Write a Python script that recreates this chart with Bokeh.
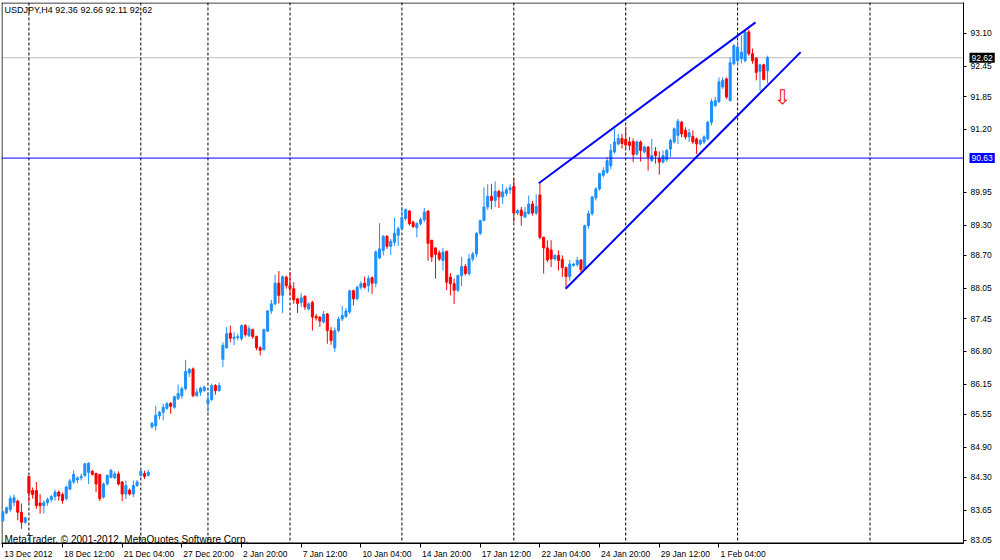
from bokeh.plotting import figure
from bokeh.models import (FixedTicker, Span, Label, LinearAxis, PrintfTickFormatter,
                          ColumnDataSource, Range1d)
from bokeh.core.properties import value
from bokeh.embed import file_html
from bokeh.resources import INLINE

symbol = "USDJPY,H4"

opens = [83.44, 83.60, 83.66, 83.80, 83.83, 83.61, 83.41, 84.32, 84.04, 84.04,
         83.79, 83.74, 83.80, 83.86, 83.92, 84.01, 83.96, 83.88, 84.07, 84.21,
         84.25, 84.29, 84.34, 84.40, 84.42, 84.38, 84.36, 83.91, 84.17, 84.30,
         84.29, 84.37, 84.21, 83.97, 84.05, 83.97, 84.14, 84.34, 84.38, 84.34,
         85.30, 85.32, 85.52, 85.59, 85.67, 85.77, 85.69, 85.86, 85.92, 86.06,
         86.37, 86.45, 85.92, 85.99, 86.02, 85.77, 85.84, 86.12, 86.02, 86.64,
         86.87, 87.16, 87.05, 87.07, 87.05, 87.31, 87.11, 87.23, 87.09, 86.87,
         86.83, 87.20, 87.60, 87.74, 88.15, 87.91, 88.27, 88.10, 88.04, 87.84,
         87.77, 87.89, 87.64, 87.77, 87.49, 87.48, 87.38, 87.54, 87.21, 86.87,
         87.21, 87.44, 87.49, 87.58, 88.00, 87.84, 88.07, 88.15, 88.10, 88.26,
         88.15, 88.65, 88.80, 89.08, 88.88, 88.96, 89.10, 89.23, 89.43, 89.58,
         89.36, 89.25, 89.33, 89.41, 89.58, 89.00, 88.85, 88.75, 88.60, 88.78,
         88.27, 88.14, 88.01, 88.30, 88.48, 88.34, 88.63, 88.73, 89.14, 89.39,
         89.66, 89.87, 89.79, 89.97, 89.86, 89.93, 90.00, 90.07, 89.54, 89.60,
         89.46, 89.53, 89.72, 89.54, 89.90, 89.06, 88.85, 88.81, 88.63, 88.70,
         88.62, 88.46, 88.28, 88.50, 88.52, 88.61, 88.42, 89.29, 89.53, 89.84,
         90.02, 90.29, 90.35, 90.48, 90.75, 90.91, 91.02, 91.00, 90.95, 90.96,
         90.71, 90.95, 90.75, 90.85, 90.58, 90.76, 90.62, 90.55, 90.60, 90.81,
         90.95, 91.08, 91.34, 91.18, 91.05, 91.06, 91.01, 90.91, 90.95, 91.01,
         91.34, 91.67, 91.75, 92.04, 92.20, 91.77, 92.50, 92.56, 92.60, 92.56,
         93.13, 92.70, 92.61, 92.35, 92.48, 92.36]

highs = [83.63, 83.72, 83.94, 83.96, 83.86, 83.78, 83.52, 84.33, 84.10, 84.21,
         83.97, 83.84, 83.90, 83.95, 84.06, 84.04, 84.00, 84.14, 84.27, 84.44,
         84.32, 84.37, 84.58, 84.60, 84.45, 84.39, 84.37, 84.20, 84.36, 84.47,
         84.42, 84.42, 84.23, 84.24, 84.08, 84.24, 84.25, 84.47, 84.43, 84.45,
         85.40, 85.72, 85.62, 85.76, 85.80, 85.79, 85.92, 86.14, 86.10, 86.63,
         86.47, 86.48, 86.06, 86.10, 86.12, 85.99, 86.16, 86.15, 86.18, 86.98,
         87.28, 87.31, 87.18, 87.15, 87.33, 87.34, 87.31, 87.25, 87.11, 86.90,
         87.25, 87.61, 87.82, 88.32, 88.39, 88.30, 88.30, 88.37, 88.17, 87.86,
         87.95, 87.91, 87.77, 87.80, 87.54, 87.49, 87.60, 87.56, 87.28, 87.27,
         87.49, 87.70, 87.66, 88.02, 88.02, 88.10, 88.19, 88.28, 88.30, 88.28,
         88.80, 89.34, 89.10, 89.10, 89.03, 89.45, 89.27, 89.66, 89.63, 89.60,
         89.39, 89.36, 89.45, 89.64, 89.59, 89.01, 88.86, 88.80, 88.85, 88.80,
         88.35, 88.24, 88.32, 88.67, 88.53, 88.73, 88.77, 89.16, 89.41, 90.05,
         90.11, 90.12, 90.17, 90.00, 90.12, 90.05, 90.11, 90.22, 89.62, 89.66,
         89.66, 89.89, 89.78, 89.91, 90.13, 89.07, 89.00, 89.00, 88.72, 88.80,
         88.70, 88.48, 88.61, 88.55, 88.67, 88.63, 89.31, 89.59, 89.88, 90.05,
         90.34, 90.45, 90.65, 90.91, 91.21, 91.11, 91.11, 91.24, 91.05, 91.02,
         90.98, 90.98, 90.88, 90.86, 91.01, 90.85, 90.76, 90.78, 90.81, 91.01,
         91.24, 91.41, 91.37, 91.24, 91.21, 91.18, 91.04, 91.01, 91.08, 91.37,
         91.80, 91.84, 92.23, 92.23, 92.23, 92.63, 92.89, 92.94, 93.06, 93.16,
         93.18, 92.80, 92.63, 92.50, 92.50, 92.66]

lows = [83.42, 83.57, 83.62, 83.73, 83.45, 83.28, 83.38, 83.81, 83.88, 83.68,
        83.58, 83.58, 83.74, 83.82, 83.84, 83.84, 83.78, 83.84, 84.05, 84.17,
        84.19, 84.24, 84.31, 84.17, 84.34, 84.01, 83.83, 83.88, 84.14, 84.28,
        84.27, 84.14, 83.83, 83.87, 83.94, 83.91, 84.11, 84.31, 84.27, 84.32,
        85.27, 85.23, 85.45, 85.43, 85.64, 85.56, 85.66, 85.83, 85.86, 86.02,
        86.29, 85.89, 85.90, 85.92, 86.00, 85.60, 85.82, 85.94, 86.00, 86.49,
        86.85, 86.98, 86.92, 87.02, 87.01, 87.09, 87.08, 87.05, 86.82, 86.72,
        86.82, 87.18, 87.54, 87.71, 87.75, 87.56, 88.04, 87.91, 87.74, 87.56,
        87.68, 87.62, 87.61, 87.21, 87.41, 87.28, 87.35, 86.95, 86.93, 86.79,
        87.18, 87.40, 87.46, 87.54, 87.71, 87.81, 88.02, 88.04, 87.97, 87.94,
        88.07, 88.63, 88.70, 88.83, 88.71, 88.89, 88.89, 89.21, 89.39, 89.29,
        89.25, 89.06, 89.29, 89.36, 88.59, 88.57, 88.24, 88.59, 88.40, 88.01,
        87.91, 87.74, 87.97, 88.09, 88.30, 88.30, 88.58, 88.67, 89.10, 89.38,
        89.60, 89.62, 89.66, 89.64, 89.72, 89.87, 89.92, 89.36, 89.50, 89.29,
        89.45, 89.51, 89.49, 89.50, 89.02, 88.34, 88.57, 88.47, 88.60, 88.40,
        88.27, 88.05, 88.20, 88.48, 88.48, 88.37, 88.40, 89.23, 89.49, 89.79,
        89.98, 90.25, 90.32, 90.41, 90.72, 90.88, 90.82, 90.81, 90.78, 90.55,
        90.68, 90.56, 90.72, 90.38, 90.55, 90.52, 90.30, 90.52, 90.56, 90.65,
        90.92, 90.91, 91.04, 91.00, 90.95, 90.91, 90.71, 90.88, 90.91, 90.98,
        91.28, 91.64, 91.72, 92.00, 91.80, 91.75, 92.47, 92.47, 92.51, 92.53,
        92.66, 92.50, 92.17, 91.97, 92.17, 92.11]

closes = [83.62, 83.70, 83.88, 83.90, 83.61, 83.41, 83.50, 83.99, 83.96, 83.74,
          83.74, 83.80, 83.86, 83.92, 84.01, 83.93, 83.84, 84.11, 84.23, 84.36,
          84.29, 84.32, 84.57, 84.58, 84.36, 84.17, 83.88, 84.17, 84.34, 84.44,
          84.37, 84.17, 83.97, 84.14, 83.97, 84.14, 84.21, 84.42, 84.32, 84.40,
          85.37, 85.53, 85.59, 85.69, 85.76, 85.71, 85.90, 85.96, 86.06, 86.40,
          86.44, 85.92, 85.99, 86.07, 86.09, 85.84, 86.12, 86.02, 86.12, 86.92,
          87.15, 87.06, 87.08, 87.09, 87.31, 87.13, 87.25, 87.09, 86.87, 86.82,
          87.23, 87.60, 87.74, 88.15, 87.91, 88.28, 88.10, 88.04, 87.82, 87.75,
          87.86, 87.68, 87.74, 87.48, 87.46, 87.40, 87.53, 87.21, 87.01, 87.21,
          87.44, 87.51, 87.60, 88.00, 87.84, 88.07, 88.14, 88.07, 88.24, 88.15,
          88.77, 88.83, 89.08, 88.88, 88.98, 89.14, 89.23, 89.45, 89.61, 89.33,
          89.27, 89.33, 89.41, 89.56, 88.94, 88.67, 88.72, 88.63, 88.77, 88.17,
          88.14, 88.01, 88.30, 88.48, 88.34, 88.63, 88.73, 89.14, 89.39, 89.66,
          89.87, 89.79, 89.97, 89.86, 89.96, 90.00, 90.04, 89.54, 89.59, 89.49,
          89.56, 89.72, 89.54, 89.67, 89.06, 88.85, 88.61, 88.63, 88.70, 88.60,
          88.46, 88.28, 88.53, 88.53, 88.60, 88.42, 89.29, 89.53, 89.86, 90.02,
          90.32, 90.38, 90.58, 90.78, 90.95, 91.02, 90.92, 90.89, 90.88, 90.70,
          90.95, 90.78, 90.85, 90.65, 90.68, 90.68, 90.55, 90.68, 90.78, 90.98,
          91.21, 91.36, 91.11, 91.05, 91.13, 90.95, 90.91, 90.98, 91.05, 91.34,
          91.75, 91.77, 92.14, 92.17, 91.84, 92.52, 92.86, 92.83, 92.73, 93.13,
          92.70, 92.56, 92.33, 92.48, 92.19, 92.62]

# time axis: bar index of each label and its text
time_tick_bars = [0, 16, 32, 48, 64, 80, 96, 112, 128, 144, 160, 176, 192]
time_tick_labels = ["13 Dec 2012", "18 Dec 12:00", "21 Dec 04:00", "27 Dec 20:00",
                    "2 Jan 20:00", "7 Jan 12:00", "10 Jan 04:00", "14 Jan 20:00",
                    "17 Jan 12:00", "22 Jan 04:00", "24 Jan 20:00", "29 Jan 12:00",
                    "1 Feb 04:00"]
price_ticks = [93.10, 92.45, 91.85, 91.20, 89.95, 89.30, 88.70, 88.05, 87.45,
               86.80, 86.15, 85.55, 84.90, 84.30, 83.65, 83.05]

# period separators (bar index)
separator_bars = [7, 37, 55, 77, 107, 137, 167, 197, 232.5]
# horizontal levels
level_line = 90.63
bid_price = 92.62
# trend channel anchors (bar index, price)
upper_trend_x = [143.7, 201.8]
upper_trend_y = [90.13, 93.32]
lower_trend_x = [150.9, 213.9]
lower_trend_y = [88.04, 92.73]
# sell arrow anchor
arrow_x = [209.0]
arrow_y = [91.84]

BULL = "#1E90FF"
BEAR = "#FF0000"
LINE_BLUE = "#0000FF"
FONT = "Liberation Sans"

# ---- layout: chart window 1..963 px, price scale column to the right of it ----
PX_PER_BAR = 3.73
PX_PER_YEN = 50.45
FW, FH = 996, 541            # frame also covers the price-scale column
X0 = -0.35
X1 = X0 + FW / PX_PER_BAR
BORDER = X0 + 962 / PX_PER_BAR   # right edge of the chart window (bar units)
Y1, Y0 = 93.714, 82.99
# border lines drawn half a pixel inside the frame edges
EDGE_LEFT = X0 + 0.5 / PX_PER_BAR
EDGE_TOP = Y1 - 0.5 / PX_PER_YEN
EDGE_BOTTOM = Y0 + 0.5 / PX_PER_YEN

n = len(opens)
src = ColumnDataSource(dict(
    x=list(range(n)), open=opens, high=highs, low=lows, close=closes,
    top=[max(o, c) for o, c in zip(opens, closes)],
    bottom=[min(o, c) for o, c in zip(opens, closes)],
    color=[BULL if c >= o else BEAR for o, c in zip(opens, closes)],
))

p = figure(frame_width=FW, frame_height=FH,
           x_range=Range1d(X0, X1), y_range=Range1d(Y0, Y1),
           output_backend="svg", toolbar_location=None,
           y_axis_location="right", x_axis_location=None,
           min_border_left=1, min_border_top=2, min_border_right=0, min_border_bottom=0)
p.background_fill_color = "white"
p.border_fill_color = "white"
p.outline_line_color = None
p.xgrid.visible = False
p.ygrid.visible = False

# period separators
for b in separator_bars:
    p.add_layout(Span(location=b, dimension="height", line_color="black",
                      line_dash="3 2", line_width=1, level="underlay"))

# borders of the chart window
p.add_layout(Span(location=BORDER, dimension="height", line_color="black", line_width=1))
p.segment(x0=[X0, X0, EDGE_LEFT], y0=[EDGE_TOP, EDGE_BOTTOM, Y0],
          x1=[BORDER, BORDER, EDGE_LEFT], y1=[EDGE_TOP, EDGE_BOTTOM, Y1],
          line_color="black", line_width=1)

# bid line (behind candles)
p.segment(x0=[X0], y0=[bid_price], x1=[BORDER], y1=[bid_price],
          line_color="#C0C0C0", line_width=1, level="underlay")

# candles
p.segment(x0="x", y0="low", x1="x", y1="high", source=src, line_color="color", line_width=1)
p.vbar(x="x", width=0.55, top="top", bottom="bottom", source=src,
       fill_color="color", line_color="color", line_width=1)

# horizontal level line
p.segment(x0=[X0], y0=[level_line], x1=[BORDER], y1=[level_line],
          line_color=LINE_BLUE, line_width=1)

# trend channel
p.line(upper_trend_x, upper_trend_y, line_color=LINE_BLUE, line_width=2)
p.line(lower_trend_x, lower_trend_y, line_color=LINE_BLUE, line_width=2)

# sell arrow
p.text(x=arrow_x, y=arrow_y, text=["\u21e9"], text_color="#FF0000",
       text_font=value("DejaVu Sans"), text_font_size="20px",
       text_align="center", text_baseline="middle")

# right price scale, drawn at the chart window's right border
ya = p.yaxis[0]
ya.fixed_location = BORDER
ya.ticker = FixedTicker(ticks=price_ticks)
ya.formatter = PrintfTickFormatter(format="%.2f")
ya.minor_tick_line_color = None
ya.major_tick_in = 0
ya.major_tick_out = 3
ya.major_tick_line_color = "black"
ya.axis_line_color = "black"
ya.major_label_standoff = 4
ya.major_label_text_font = FONT
ya.major_label_text_font_size = "8.5px"
ya.major_label_text_color = "black"

# bottom time scale: tick marks
xa_ticks = LinearAxis(ticker=FixedTicker(ticks=time_tick_bars), bounds=(X0, BORDER),
                      major_label_overrides={b: "" for b in time_tick_bars},
                      major_label_text_font_size="1px", major_label_standoff=0,
                      major_tick_in=0, major_tick_out=4, major_tick_line_color="black",
                      minor_tick_line_color=None, axis_line_color="black")
p.add_layout(xa_ticks, "below")

# bottom time scale: labels starting at their tick (MetaTrader style)
CHAR_W = {" ": 0.278, ":": 0.278, ".": 0.278, "D": 0.722, "e": 0.556, "c": 0.5,
          "J": 0.5, "a": 0.556, "n": 0.556, "F": 0.611, "b": 0.556}
LABEL_PX = 8.5
label_pos = []
for b, t in zip(time_tick_bars, time_tick_labels):
    w = sum(CHAR_W.get(ch, 0.556) for ch in t) * LABEL_PX
    label_pos.append(round(b + (w / 2 + 1.5) / PX_PER_BAR, 4))
xa_labels = LinearAxis(ticker=FixedTicker(ticks=label_pos),
                       major_label_overrides={pos: t for pos, t in zip(label_pos, time_tick_labels)},
                       major_label_text_font=FONT, major_label_text_font_size="8.5px",
                       major_label_text_color="black", major_label_standoff=1,
                       major_tick_in=0, major_tick_out=0, major_tick_line_color=None,
                       minor_tick_line_color=None, axis_line_color=None)
p.add_layout(xa_labels, "below")

# header and copyright
header = "%s  %.2f %.2f %.2f %.2f" % (symbol, opens[-1], highs[-1], lows[-1], closes[-1])
p.add_layout(Label(x=3, y=FH - 2, x_units="screen", y_units="screen", text=header,
                   text_font=FONT, text_font_size="9px", text_color="black",
                   text_baseline="top", text_align="left"))
p.add_layout(Label(x=3, y=4, x_units="screen", y_units="screen",
                   text="MetaTrader, \u00a9 2001-2012, MetaQuotes Software Corp.",
                   text_font=FONT, text_font_size="10px", text_color="black",
                   text_baseline="alphabetic", text_align="left"))

# price boxes on the price scale
for lvl, bg in ((bid_price, "black"), (level_line, LINE_BLUE)):
    lab = Label(x=BORDER, y=lvl, x_units="data", y_units="data", x_offset=6,
                text="%.2f" % lvl, text_font=FONT, text_font_size="8.5px",
                text_color="white", text_baseline="middle", text_align="left",
                background_fill_color=bg)
    try:
        lab.padding = 2
    except Exception:
        pass
    p.add_layout(lab)

open("out.html", "w").write(file_html(p, INLINE))
